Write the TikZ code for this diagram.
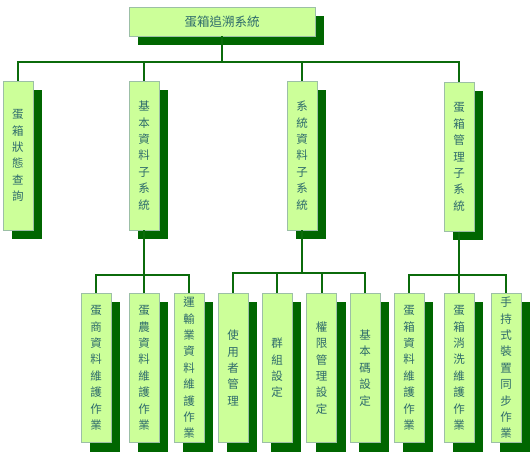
\documentclass[tikz,border=0pt]{standalone}
\usepackage{fontspec}
\newfontfamily\cjk{Noto Sans CJK TC}
\usetikzlibrary{shadows}

\definecolor{boxfill}{HTML}{CCFF99}
\definecolor{boxedge}{HTML}{9CBFA6}
\definecolor{shadegreen}{HTML}{006600}
\definecolor{linegreen}{HTML}{0B6B0B}
\definecolor{textteal}{HTML}{2E6B6B}

\tikzset{
  unit/.style={rectangle, draw=boxedge, fill=boxfill, line width=0.8pt,
    text=textteal, inner sep=0pt, align=center,
    general shadow={fill=shadegreen, shadow xshift=9pt, shadow yshift=-9pt}},
  vbox/.style={unit, minimum width=30pt, minimum height=149pt,
    font=\cjk\fontsize{11.5}{16.4}\selectfont},
  link/.style={draw=linegreen, line width=2pt}
}

\begin{document}
\begin{tikzpicture}[x=1pt, y=-1pt]
\useasboundingbox (0,0) rectangle (530,454);

% Top box
\node[unit, minimum width=186pt, minimum height=29pt,
  font=\cjk\fontsize{12.5}{14}\selectfont] (root) at (222,21.5) {蛋箱追溯系統};

% Subsystems
\node[vbox] (query) at (18,155.5) {蛋\\箱\\狀\\態\\查\\詢};
\node[vbox] (basic) at (144,155.5) {基\\本\\資\\料\\子\\系\\統};
\node[vbox] (sysdata) at (302,155.5) {系\\統\\資\\料\\子\\系\\統};
\node[vbox] (boxmgr) at (459,157) {蛋\\箱\\管\\理\\子\\系\\統};

% Operations
\foreach \name/\xpos/\label in {
    b1/96/蛋\\商\\資\\料\\維\\護\\作\\業,
    b2/144/蛋\\農\\資\\料\\維\\護\\作\\業,
    b3/189/運\\輸\\業\\資\\料\\維\\護\\作\\業,
    c1/233/使\\用\\者\\管\\理,
    c2/277/群\\組\\設\\定,
    c3/321.5/權\\限\\管\\理\\設\\定,
    c4/365/基\\本\\碼\\設\\定,
    d1/409/蛋\\箱\\資\\料\\維\\護\\作\\業,
    d2/459/蛋\\箱\\消\\洗\\維\\護\\作\\業,
    d3/506/手\\持\\式\\裝\\置\\同\\步\\作\\業
  }
{
  \node[vbox] (\name) at (\xpos,368) {\label};
}

% Connectors from the top box
\foreach \child in {query,basic,sysdata,boxmgr}
  \draw[link] (root.south) -- ++(0,26) -| (\child.north);

% Connectors to the operations
\foreach \child in {b1,b2,b3}
  \draw[link] (basic.south) -- ++(0,45) -| (\child.north);
\foreach \child in {c1,c2,c3,c4}
  \draw[link] (sysdata.south) -- ++(0,43) -| (\child.north);
\foreach \child in {d1,d2,d3}
  \draw[link] (boxmgr.south) -- ++(0,43) -| (\child.north);

\end{tikzpicture}
\end{document}
